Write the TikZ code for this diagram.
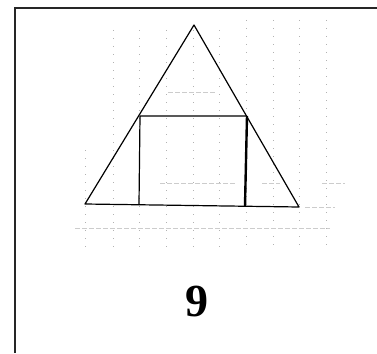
\documentclass[tikz,border=0pt]{standalone}
\usepackage{fontspec}
\setmainfont{Liberation Serif}
\begin{document}
\begin{tikzpicture}[x=1pt,y=-1pt,
  gridv/.style={gray!60,line width=0.7pt,dash pattern=on 1pt off 7pt},
  gridh/.style={gray!40,line width=0.6pt,dash pattern=on 5pt off 2pt},
  figline/.style={black,line width=1.2pt,line join=round},
  frame/.style={black!85,line width=2pt}]
\useasboundingbox (0,0) rectangle (377,353);
% faint grid
\foreach \x/\ya in {85/150,113/30,139/30,166/30,193/30,219/30,246/20,273/20,299/20,326/20}
  \draw[gridv] (\x,\ya) -- (\x,248);
\draw[gridh] (75,228) -- (330,228);
\draw[gridh] (160,183) -- (235,183);
\draw[gridh] (262,183) -- (280,183);
\draw[gridh] (322,183) -- (345,183);
\draw[gridh] (168,92) -- (215,92);
\draw[gridh] (305,207) -- (335,207);
% frame
\draw[frame] (15,353) -- (15,8) -- (377,8);
% triangle
\coordinate (A) at (194,25);
\coordinate (B) at (85,204);
\coordinate (C) at (299,207);
\draw[figline] (A) -- (B) -- (C) -- cycle;
% rectangle
\coordinate (P) at (140,116);
\coordinate (Q) at (247,116);
\coordinate (R) at (245,206);
\coordinate (S) at (139,204);
\draw[figline] (S) -- (P) -- (Q);
\draw[black,line width=2.4pt] (Q) -- (R);
% label
\node[font=\bfseries\fontsize{46}{50}\selectfont] (lbl) at (197,301) {9};
\end{tikzpicture}
\end{document}
